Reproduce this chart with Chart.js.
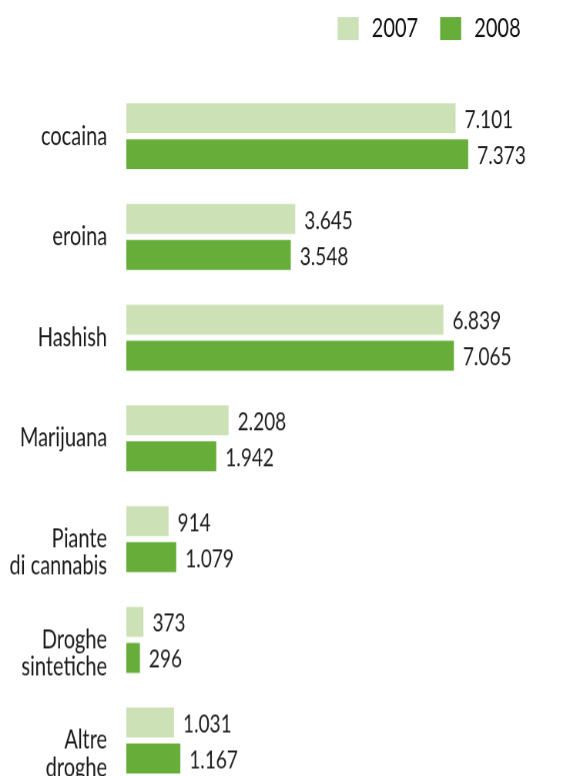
<!DOCTYPE html>
<html>
<head>
<meta charset="utf-8">
<script src="https://cdn.jsdelivr.net/npm/chart.js@4/dist/chart.umd.min.js"></script>
<style>
  html { overflow: hidden; }
  html, body { margin: 0; padding: 0; background: #fff; }
  body { height: 800px; }
  /* il grafico originale e' leggermente "stirato" in verticale */
  #wrap { width: 563px; height: 615px; transform: scaleY(1.3); transform-origin: 0 0; }
</style>
</head>
<body>
<div id="wrap"><canvas id="grafico" width="563" height="615"></canvas></div>
<script>
// === Dati ===
const categorie = ["cocaina", "eroina", "Hashish", "Marijuana", ["Piante", "di cannabis"], ["Droghe", "sintetiche"], ["Altre", "droghe"]];
const anni = ["2007", "2008"];
const valori2007 = [7101, 3645, 6839, 2208, 914, 373, 1031];
const valori2008 = [7373, 3548, 7065, 1942, 1079, 296, 1167];

const verdeChiaro = "#cde1b7";
const verdeScuro = "#66ae39";
const fontBase = "Lato, 'Open Sans', sans-serif";

// etichette con il valore a destra di ogni barra
const etichetteValori = {
  id: "etichetteValori",
  afterDatasetsDraw(chart) {
    const c = chart.ctx;
    c.save();
    c.font = "19px " + fontBase;
    c.fillStyle = "#1e1e1e";
    c.textAlign = "left";
    c.textBaseline = "middle";
    chart.data.datasets.forEach((ds, i) => {
      chart.getDatasetMeta(i).data.forEach((bar, j) => {
        const testo = ds.data[j].toLocaleString("it-IT");
        c.fillText(testo, bar.x + 9, bar.y + 1.5);
      });
    });
    c.restore();
  }
};

// legenda in alto a destra
const legenda = {
  id: "legenda",
  afterDraw(chart) {
    const c = chart.ctx;
    c.save();
    c.font = "20px " + fontBase;
    c.textAlign = "left";
    c.textBaseline = "middle";
    let x = 520;
    const ds = chart.data.datasets.slice().reverse();
    ds.forEach(d => {
      const w = c.measureText(d.label).width;
      const xTesto = x - w;
      const xBox = xTesto - 13 - 21;
      c.fillStyle = d.backgroundColor;
      c.fillRect(xBox, 13.1, 21, 17.7);
      c.fillStyle = "#111";
      c.fillText(d.label, xTesto, 22);
      x = xBox - 22;
    });
    c.restore();
  }
};

const ctx = document.getElementById("grafico").getContext("2d");
const chart = new Chart(ctx, {
  type: "bar",
  data: {
    labels: categorie,
    datasets: [
      { label: anni[0], data: valori2007, backgroundColor: verdeChiaro },
      { label: anni[1], data: valori2008, backgroundColor: verdeScuro }
    ]
  },
  options: {
    indexAxis: "y",
    responsive: false,
    animation: false,
    devicePixelRatio: 1.3,
    layout: { padding: { top: 66, right: 20, bottom: 7, left: 0 } },
    datasets: {
      bar: { categoryPercentage: 0.715, barPercentage: 0.833 }
    },
    plugins: {
      tooltip: { enabled: false },
      legend: { display: false }
    },
    scales: {
      x: {
        display: false,
        min: 0,
        max: 9000
      },
      y: {
        grid: { display: false },
        border: { display: false },
        afterFit(scale) {
          scale.width = 126;
          scale.paddingTop = 0;
          scale.paddingBottom = 0;
        },
        ticks: {
          padding: 11,
          color: "#1a1a1a",
          font: { size: 20, family: fontBase, lineHeight: 1.05 },
          // le etichette su due righe stanno un po' piu' in basso
          callback(value) {
            const l = this.getLabelForValue(value);
            return Array.isArray(l) ? ["", ...l] : l;
          }
        }
      }
    }
  },
  plugins: [etichetteValori, legenda]
});
</script>
</body>
</html>
